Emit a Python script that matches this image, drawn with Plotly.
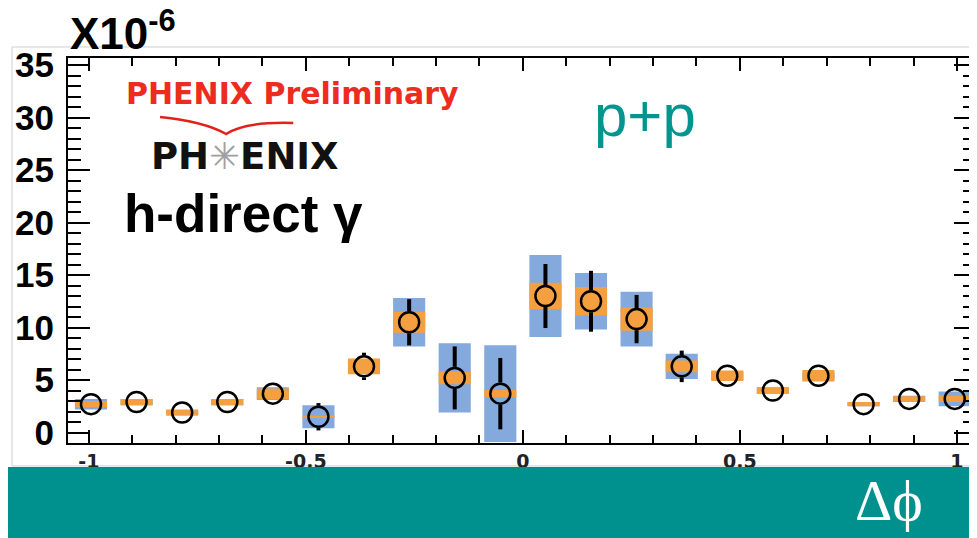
import plotly.graph_objects as go

# ---- data ----
dphi = [-0.995, -0.890, -0.785, -0.681, -0.576, -0.471, -0.366, -0.262, -0.157, -0.052,
        0.052, 0.157, 0.262, 0.366, 0.471, 0.576, 0.681, 0.785, 0.890, 0.995]
yield_vals = [2.7, 2.9, 1.9, 2.9, 3.7, 1.5, 6.3, 10.5, 5.2, 3.7,
              13.0, 12.5, 10.8, 6.3, 5.4, 4.0, 5.4, 2.7, 3.2, 3.2]
stat_err = [0.8, 0.8, 0.8, 0.8, 0.9, 1.3, 1.3, 2.2, 3.0, 3.4,
            3.05, 2.9, 2.3, 1.5, 0.9, 0.8, 0.8, 0.8, 0.8, 0.9]
sys_blue = [0.5, 0.3, 0.2, 0.3, 0.6, 1.1, 0.5, 2.3, 3.3, 4.6,
            3.9, 2.7, 2.6, 1.2, 0.4, 0.3, 0.3, 0.2, 0.3, 0.7]
sys_orange = [0.3, 0.3, 0.3, 0.3, 0.5, 0.1, 0.75, 1.0, 0.6, 0.35,
              1.27, 1.35, 1.1, 0.55, 0.5, 0.3, 0.55, 0.2, 0.25, 0.3]
x_tickvals = [-1, -0.5, 0, 0.5, 1]
x_ticktext = ["-1", "-0.5", "0", "0.5", "1"]
y_tickvals = [0, 5, 10, 15, 20, 25, 30, 35]

BOX_W = 0.074
MARKER_R = 1.05  # marker radius expressed in y data units

BLUE = "#84A9DD"
ORANGE = "#F5A040"
TEAL = "#00918F"

fig = go.Figure()

fig.add_trace(go.Bar(x=dphi, y=[2 * s for s in sys_blue],
                     base=[v - s for v, s in zip(yield_vals, sys_blue)],
                     width=BOX_W, marker=dict(color=BLUE, line=dict(width=0)),
                     showlegend=False, hoverinfo="skip"))
fig.add_trace(go.Bar(x=dphi, y=[2 * s for s in sys_orange],
                     base=[v - s for v, s in zip(yield_vals, sys_orange)],
                     width=BOX_W, marker=dict(color=ORANGE, line=dict(width=0)),
                     showlegend=False, hoverinfo="skip"))

# statistical error bars, drawn outside the open marker
ex, ey = [], []
for xv, yv, e in zip(dphi, yield_vals, stat_err):
    if e > MARKER_R:
        ex += [xv, xv, None, xv, xv, None]
        ey += [yv + MARKER_R, yv + e, None, yv - MARKER_R, yv - e, None]
fig.add_trace(go.Scatter(x=ex, y=ey, mode="lines",
                         line=dict(color="black", width=4),
                         showlegend=False, hoverinfo="skip"))

fig.add_trace(go.Scatter(x=dphi, y=yield_vals, mode="markers",
                         marker=dict(symbol="circle-open", size=20, color="black",
                                     line=dict(width=2.5, color="black")),
                         showlegend=False))

fig.update_layout(
    width=977, height=538,
    margin=dict(l=60, r=9, t=50, b=103, autoexpand=False),
    paper_bgcolor="white", plot_bgcolor="white",
    barmode="overlay",
    xaxis=dict(range=[-1.048, 1.044], tickvals=x_tickvals, ticktext=x_ticktext,
               automargin=False,
               ticks="inside", ticklen=13, tickwidth=1.5, tickcolor="black",
               showline=True, linecolor="black", linewidth=2, mirror="ticks",
               showgrid=False, zeroline=False,
               tickfont=dict(family="DejaVu Sans", size=19, color="#222", weight="bold"),
               ticklabelstandoff=0,
               minor=dict(dtick=0.1, tick0=0, ticks="inside", ticklen=8,
                          tickwidth=1.5, tickcolor="black", showgrid=False)),
    yaxis=dict(range=[-1.0, 35.67], tickvals=y_tickvals,
               automargin=False,
               ticks="inside", ticklen=22, tickwidth=1.5, tickcolor="black",
               showline=True, linecolor="black", linewidth=2, mirror="ticks",
               showgrid=False, zeroline=False,
               tickfont=dict(family="Liberation Sans, Arial", size=35, color="black",
                             weight="bold"),
               ticklabelstandoff=5,
               minor=dict(dtick=1, tick0=0, ticks="inside", ticklen=13,
                          tickwidth=1.5, tickcolor="black", showgrid=False)),
    shapes=[
        dict(type="rect", xref="paper", yref="paper", x0=-0.0617, x1=1.02,
             y0=-0.0597, y1=1.0286, line=dict(color="#cfcfcf", width=1),
             layer="below"),
        dict(type="rect", xref="paper", yref="paper", x0=-0.1, x1=1.03,
             y0=-0.3, y1=-0.0623, fillcolor=TEAL, line=dict(width=0),
             layer="above"),
        dict(type="path", xref="paper", yref="paper",
             path="M 0.1014,0.8468 Q 0.150,0.835 0.1742,0.8026 Q 0.195,0.835 0.2481,0.8312",
             line=dict(color="#E0231A", width=2.5)),
    ],
    annotations=[
        dict(xref="paper", yref="paper", x=0.0, y=1.072, xanchor="left", yanchor="middle",
             text="<b>X10<sup>-6</sup></b>", showarrow=False,
             font=dict(family="Liberation Sans, Arial", size=44, color="black")),
        dict(xref="paper", yref="paper", x=0.247, y=0.909, xanchor="center", yanchor="middle",
             text="<b>PHENIX Preliminary</b>", showarrow=False,
             font=dict(family="DejaVu Sans", size=30, color="#EE2B1F")),
        dict(xref="paper", yref="paper", x=0.195, y=0.745, xanchor="center", yanchor="middle",
             text="<b>PH<span style='color:#a0a0a0'>✳</span>ENIX</b>", showarrow=False,
             font=dict(family="DejaVu Sans", size=37, color="#111111")),
        dict(xref="paper", yref="paper", x=0.0595, y=0.597, xanchor="left", yanchor="middle",
             text="<b>h-direct γ</b>", showarrow=False,
             font=dict(family="Liberation Sans, Arial", size=53, color="black")),
        dict(xref="paper", yref="paper", x=0.636, y=0.85, xanchor="center", yanchor="middle",
             text="p+p", showarrow=False,
             font=dict(family="Liberation Sans, Arial", size=60, color="#00958F")),
        dict(xref="paper", yref="paper", x=0.904, y=-0.15, xanchor="center", yanchor="middle",
             text="Δϕ", showarrow=False,
             font=dict(family="Liberation Serif, Times New Roman", size=58, color="white")),
    ],
)

fig.write_html("out.html")
